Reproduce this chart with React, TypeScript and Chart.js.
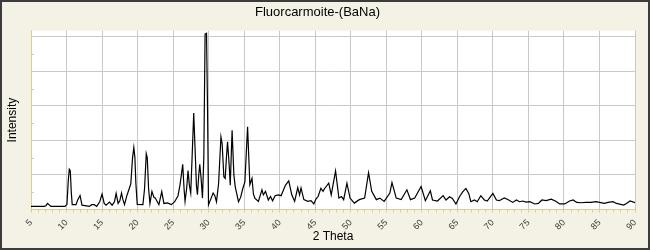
import React, { useEffect, useRef } from "react";
import { Chart, registerables } from "chart.js";

Chart.register(...registerables);

const chartTitle = "Fluorcarmoite-(BaNa)";
const xTitle = "2 Theta";
const yTitle = "Intensity";

// 2-theta positions (degrees)
const twoTheta = [
  5.0, 6.86, 7.1, 7.33, 7.57, 7.8, 9.78, 10.06, 10.25, 10.39, 10.53, 10.67, 10.8, 11.33, 11.57, 11.9, 12.18,
  13.2, 13.55, 13.9, 14.25, 14.67, 15.0, 15.3, 15.57, 16.04, 16.42, 16.75, 16.98, 17.26, 17.5, 17.74, 17.92,
  18.16, 18.49, 18.82, 19.05, 19.29, 19.47, 19.62, 19.76, 19.95, 20.75, 20.98, 21.22, 21.36, 21.55, 21.74,
  22.02, 22.3, 22.5, 22.77, 23.0, 23.4, 23.7, 24.2, 24.75, 25.22, 25.69, 25.97, 26.16, 26.35, 26.54, 26.68,
  26.9, 27.1, 27.29, 27.48, 27.67, 27.9, 28.09, 28.28, 28.42, 28.61, 28.75, 28.94, 29.13, 29.32, 29.5, 29.7,
  29.84, 29.98, 30.3, 30.63, 30.87, 31.1, 31.4, 31.73, 31.9, 32.14, 32.33, 32.5, 32.66, 32.9, 33.04, 33.3,
  33.55, 33.75, 34.2, 34.5, 34.8, 35.1, 35.3, 35.48, 35.65, 35.8, 36.1, 36.3, 36.5, 37.0, 37.5, 37.7, 38.0,
  38.4, 38.7, 39.0, 39.35, 39.8, 40.2, 40.8, 41.27, 41.7, 42.1, 42.54, 42.8, 43.0, 43.4, 43.95, 44.4, 44.8,
  45.1, 45.4, 45.8, 46.1, 46.3, 46.9, 47.25, 47.86, 48.33, 48.7, 49.0, 49.46, 49.9, 50.5, 51.2, 51.95, 52.5,
  52.95, 53.6, 54.1, 54.7, 55.5, 55.8, 56.4, 57.1, 57.9, 58.4, 59.0, 59.9, 60.5, 61.2, 61.5, 62.2, 63.0, 63.4,
  63.9, 64.3, 64.8, 65.3, 65.75, 66.2, 66.6, 66.9, 67.4, 67.8, 68.3, 68.8, 69.2, 70.0, 70.5, 70.9, 71.6,
  72.1, 72.8, 73.3, 73.75, 74.2, 74.7, 75.2, 75.9, 76.4, 76.9, 77.5, 78.2, 78.8, 79.4, 80.1, 80.8, 81.3,
  81.8, 82.4, 83.1, 83.8, 84.5, 85.0, 85.7, 86.2, 86.9, 87.4, 88.4, 88.8, 89.3, 90.0,
];

// Intensity values (counts)
const intensity = [
  18, 18, 22, 35, 27, 18, 18, 30, 170, 233, 225, 100, 28, 28, 55, 81, 25,
  18, 28, 28, 18, 45, 89, 35, 25, 43, 25, 45, 93, 35, 50, 95, 60,
  28, 80, 120, 150, 300, 359, 300, 150, 30, 28, 120, 323, 300, 120, 35,
  104, 70, 66, 45, 28, 104, 35, 38, 28, 45, 80, 143, 200, 261, 120, 47,
  120, 225, 140, 95, 300, 558, 350, 140, 85, 200, 261, 180, 66, 300, 1015, 1020,
  600, 28, 60, 95, 80, 45, 150, 420, 380, 190, 180, 300, 392, 250, 140, 459,
  200, 130, 45, 70, 120, 160, 330, 478, 300, 143, 180, 90, 65, 47, 114, 85, 105,
  55, 75, 50, 80, 85, 80, 140, 165, 85, 47, 127, 85, 125, 57, 47, 51, 32,
  60, 75, 123, 105, 120, 152, 85, 223, 66, 75, 57, 152, 66, 37, 57, 66, 213,
  105, 57, 66, 47, 95, 156, 66, 57, 114, 57, 66, 133, 51, 108, 55, 49, 80, 55,
  74, 64, 32, 74, 102, 122, 93, 45, 55, 45, 80, 55, 49, 93, 55, 51, 67,
  58, 41, 55, 45, 49, 43, 45, 32, 35, 55, 51, 60, 49, 32, 32, 49, 55,
  41, 39, 41, 41, 45, 41, 35, 41, 45, 35, 26, 35, 49, 39,
];

const xMin = 5;
const xMax = 90;
const yMax = 1035;

const BG = "#F4F1E5";
const FRAME = "#3C3C3C";
const GRID = "#C8C8C8";
const AXIS = "#D8CF96";
const FONT = "'Liberation Sans', Arial, sans-serif";

const framePlugin = {
  id: "framePlugin",
  beforeDraw(chart: any) {
    const { ctx, chartArea, width, height } = chart;
    ctx.save();
    ctx.fillStyle = BG;
    ctx.fillRect(0, 0, width, height);
    ctx.fillStyle = "#FFFFFF";
    ctx.fillRect(chartArea.left, chartArea.top, chartArea.right - chartArea.left, chartArea.bottom - chartArea.top);
    ctx.restore();
  },
  afterDraw(chart: any) {
    const { ctx, width, height } = chart;
    const y = chart.scales.y;
    ctx.save();
    // minor inner ticks on the y axis
    ctx.strokeStyle = AXIS;
    ctx.lineWidth = 1;
    y.ticks.forEach((t: any) => {
      if (t.value % 200 !== 0 && t.value % 100 === 0) {
        const py = Math.round(y.getPixelForValue(t.value)) + 0.5;
        ctx.beginPath();
        ctx.moveTo(chart.chartArea.left, py);
        ctx.lineTo(chart.chartArea.left + 3, py);
        ctx.stroke();
      }
    });
    ctx.strokeStyle = FRAME;
    ctx.lineWidth = 2;
    ctx.strokeRect(1, 1, width - 2, height - 2);
    ctx.restore();
  },
};

export default function App() {
  const ref = useRef<HTMLCanvasElement>(null);

  useEffect(() => {
    document.body.style.margin = "0";
    const points = twoTheta.map((x, i) => ({ x, y: intensity[i] }));
    const chart = new Chart(ref.current as HTMLCanvasElement, {
      type: "line",
      data: {
        datasets: [
          {
            data: points,
            borderColor: "#000000",
            borderWidth: 1.2,
            pointRadius: 0,
            tension: 0,
            fill: false,
          },
        ],
      },
      options: {
        animation: false,
        responsive: false,
        parsing: false as any,
        layout: { padding: { left: 0, right: 15, top: 0, bottom: 0 } },
        plugins: {
          legend: { display: false },
          tooltip: { enabled: false },
          title: {
            display: true,
            text: chartTitle,
            color: "#000000",
            font: { family: "'Liberation Sans Narrow', 'Liberation Sans', Arial, sans-serif", size: 13, weight: "normal" },
            padding: { top: 5, bottom: 10 },
          },
        },
        scales: {
          x: {
            type: "linear",
            min: xMin,
            max: xMax,
            afterFit(scale: any) {
              scale.height = 40.5;
            },
            ticks: {
              stepSize: 1,
              autoSkip: false,
              minRotation: 45,
              maxRotation: 45,
              padding: 5,
              color: "#3A3A3A",
              font: { family: FONT, size: 9 },
              callback: (v: any) => (Number(v) % 5 === 0 ? String(v) : ""),
            },
            grid: {
              color: (c: any) => (c.tick && c.tick.value % 5 === 0 ? GRID : "rgba(0,0,0,0)"),
              tickColor: AXIS,
              tickLength: 3,
              lineWidth: 1,
            },
            border: { color: AXIS, width: 1 },
            title: {
              display: true,
              text: xTitle,
              color: "#000000",
              font: { family: FONT, size: 12 },
              padding: { top: 0, bottom: 6 },
            },
          },
          y: {
            type: "linear",
            min: 0,
            max: yMax,
            afterFit(scale: any) {
              scale.width = 31;
            },
            ticks: { display: false, stepSize: 100, includeBounds: false } as any,
            grid: {
              drawTicks: false,
              color: (c: any) => (c.tick && c.tick.value % 200 === 0 && c.tick.value > 0 ? GRID : "rgba(0,0,0,0)"),
            },
            border: { color: AXIS, width: 1 },
            title: {
              display: true,
              text: yTitle,
              color: "#000000",
              font: { family: FONT, size: 12 },
              padding: { top: 5, bottom: 0 },
            },
          },
        },
      },
      plugins: [framePlugin],
    });
    return () => chart.destroy();
  }, []);

  return (
    <div style={{ position: "fixed", left: 0, top: 0, width: 650, height: 250 }}>
      <canvas ref={ref} width={650} height={250} style={{ display: "block" }} />
    </div>
  );
}
